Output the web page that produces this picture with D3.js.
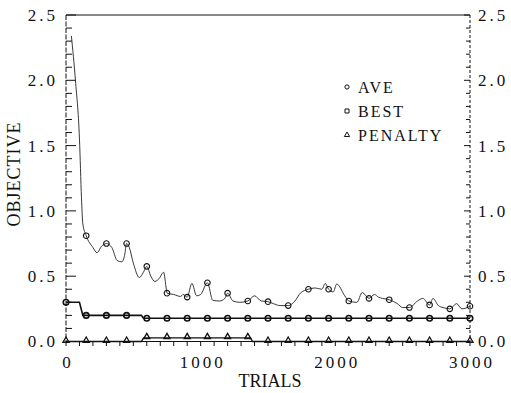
<!DOCTYPE html>
<html>
<head>
<meta charset="utf-8">
<script src="https://cdn.jsdelivr.net/npm/d3@7/dist/d3.min.js"></script>
<style>
  body { margin: 0; background: #fff; }
</style>
</head>
<body>
<svg id="chart" width="511" height="393"></svg>
<script>
// ---- data -------------------------------------------------------------
// average objective of the population per trial (line vertices)
const aveTrials = [40, 70, 100, 115, 125, 150, 200, 230, 265, 300, 340, 380, 415, 435, 450, 470,
  500, 545, 575, 600, 630, 660, 690, 725, 745, 750, 800, 850, 870, 900, 935, 970, 1000, 1050,
  1090, 1140, 1180, 1200, 1240, 1290, 1350, 1400, 1450, 1500, 1540, 1590, 1650, 1700, 1740,
  1800, 1850, 1900, 1925, 1950, 1985, 2010, 2070, 2100, 2160, 2200, 2250, 2290, 2320, 2350,
  2400, 2460, 2500, 2550, 2610, 2650, 2700, 2725, 2765, 2800, 2850, 2900, 2940, 3000];
const aveValues = [2.34, 2.0, 1.55, 1.1, 0.9, 0.81, 0.72, 0.68, 0.73, 0.75, 0.72, 0.62, 0.61, 0.66, 0.75, 0.72,
  0.60, 0.49, 0.53, 0.575, 0.50, 0.46, 0.48, 0.53, 0.40, 0.37, 0.36, 0.345, 0.36, 0.34, 0.445, 0.35, 0.36, 0.45,
  0.315, 0.31, 0.33, 0.37, 0.31, 0.30, 0.31, 0.35, 0.31, 0.305, 0.29, 0.275, 0.275, 0.31, 0.37,
  0.40, 0.41, 0.40, 0.445, 0.40, 0.38, 0.44, 0.35, 0.31, 0.30, 0.375, 0.33, 0.36, 0.34, 0.33,
  0.32, 0.29, 0.26, 0.26, 0.31, 0.33, 0.28, 0.33, 0.275, 0.26, 0.25, 0.29, 0.25, 0.27];

// best objective found so far
const bestTrials = [0, 100, 125, 560, 575, 3000];
const bestValues = [0.30, 0.30, 0.20, 0.20, 0.178, 0.178];

// penalty term
const penaltyTrials = [0, 560, 575, 1370, 1385, 3000];
const penaltyValues = [0, 0, 0.028, 0.028, 0, 0];

// trials at which symbols are plotted
const markerTrials = [0, 150, 300, 450, 600, 750, 900, 1050, 1200, 1350, 1500,
  1650, 1800, 1950, 2100, 2250, 2400, 2550, 2700, 2850, 3000];
const bestMarks = [0.30, 0.20, 0.20, 0.20, 0.178, 0.178, 0.178, 0.178, 0.178, 0.178, 0.178,
  0.178, 0.178, 0.178, 0.178, 0.178, 0.178, 0.178, 0.178, 0.178, 0.178];
const penaltyMarks = [0, 0, 0, 0, 0.028, 0.028, 0.028, 0.028, 0.028, 0.028, 0,
  0, 0, 0, 0, 0, 0, 0, 0, 0, 0];

const xTickValues = [0, 1000, 2000, 3000];
const yTickValues = [0.0, 0.5, 1.0, 1.5, 2.0, 2.5];
const xLabel = "TRIALS";
const yLabel = "OBJECTIVE";
const legendNames = ["AVE", "BEST", "PENALTY"];

// ---- layout -------------------------------------------------------------
const svg = d3.select("#chart");
const plotL = 66, plotR = 470, plotT = 15, plotB = 341.5;
const x = d3.scaleLinear().domain([0, 3000]).range([plotL, plotR]);
const y = d3.scaleLinear().domain([0, 2.5]).range([plotB, plotT]);
const ink = "#111";
const serif = '"Liberation Serif"';

const zip = (ts, vs) => ts.map((t, i) => [t, vs[i]]);
const line = d3.line().x(d => x(d[0])).y(d => y(d[1]));

// ---- frame and ticks ----------------------------------------------------
const frame = svg.append("g").attr("stroke", ink).attr("fill", "none");
frame.append("line").attr("x1", plotL).attr("x2", plotR).attr("y1", plotT).attr("y2", plotT).attr("stroke-width", 1);
frame.append("line").attr("x1", plotL).attr("x2", plotR).attr("y1", plotB).attr("y2", plotB).attr("stroke-width", 1.2);
frame.append("line").attr("x1", plotL).attr("x2", plotL).attr("y1", plotT).attr("y2", plotB)
  .attr("stroke-width", 1).attr("stroke-dasharray", "5 1.5");
frame.append("line").attr("x1", plotR).attr("x2", plotR).attr("y1", plotT).attr("y2", plotB)
  .attr("stroke-width", 1).attr("stroke-dasharray", "3 2");

// y minor / major ticks on both sides, pointing inward
const isMajor = d => Math.abs(d * 2 - Math.round(d * 2)) < 1e-6;
const yMinor = y.ticks(25);
frame.selectAll(".ytl").data(yMinor).join("line")
  .attr("x1", plotL).attr("x2", d => plotL + (isMajor(d) ? 10 : 6))
  .attr("y1", d => y(d)).attr("y2", d => y(d));
frame.selectAll(".ytr").data(yMinor).join("line")
  .attr("x1", plotR).attr("x2", d => plotR - (isMajor(d) ? 6 : 4))
  .attr("y1", d => y(d)).attr("y2", d => y(d));
// x ticks every 100 trials, below the axis
frame.selectAll(".xt").data(x.ticks(30)).join("line")
  .attr("x1", d => x(d)).attr("x2", d => x(d))
  .attr("y1", plotB).attr("y2", plotB + 4.5);

// tick labels
const tickText = sel => sel.style("font-family", serif).style("font-size", "17px")
  .style("letter-spacing", "3px").attr("fill", ink);
svg.append("g").selectAll("text").data(yTickValues).join("text")
  .attr("x", plotL - 8).attr("y", d => y(d)).attr("dy", "0.35em")
  .attr("text-anchor", "end").call(tickText).text(d => d.toFixed(1));
svg.append("g").selectAll("text").data(yTickValues).join("text")
  .attr("x", plotR + 8).attr("y", d => y(d)).attr("dy", "0.35em")
  .attr("text-anchor", "start").call(tickText).text(d => d.toFixed(1));
svg.append("g").selectAll("text").data(xTickValues).join("text")
  .attr("x", d => x(d) + 2).attr("y", plotB + 26)
  .attr("text-anchor", "middle").call(tickText).text(d => d3.format("d")(d));

// axis titles
svg.append("text").attr("x", (plotL + plotR) / 2 + 2).attr("y", 387)
  .style("font-family", serif).style("font-size", "18px").attr("fill", ink)
  .attr("text-anchor", "middle").text(xLabel);
svg.append("text").attr("transform", "translate(20,174) rotate(-90)")
  .style("font-family", serif).style("font-size", "18px").style("letter-spacing", "1px").attr("fill", ink)
  .attr("text-anchor", "middle").text(yLabel);

// ---- series -------------------------------------------------------------
const plot = svg.append("g").attr("fill", "none");
plot.append("path").datum(zip(aveTrials, aveValues))
  .attr("d", line.curve(d3.curveMonotoneX)).attr("stroke", "#222").attr("stroke-width", 0.9);
plot.append("path").datum(zip(bestTrials, bestValues))
  .attr("d", line.curve(d3.curveLinear)).attr("stroke", ink).attr("stroke-width", 1.6);
plot.append("path").datum(zip(penaltyTrials, penaltyValues))
  .attr("d", line.curve(d3.curveLinear)).attr("stroke", ink).attr("stroke-width", 1.4);

// symbols
const circle = d3.symbol().type(d3.symbolCircle).size(24);
const tri = d3.symbol().type(d3.symbolTriangle).size(16);
const aveMarkPts = zip(aveTrials, aveValues).filter(d => markerTrials.includes(d[0]));
plot.selectAll(".am").data(aveMarkPts).join("path")
  .attr("transform", d => `translate(${x(d[0])},${y(d[1])})`)
  .attr("d", circle).attr("stroke", ink).attr("stroke-width", 1.1).attr("fill", "none");
plot.selectAll(".bm").data(zip(markerTrials, bestMarks)).join("path")
  .attr("transform", d => `translate(${x(d[0])},${y(d[1])})`)
  .attr("d", circle).attr("stroke", ink).attr("stroke-width", 1.6).attr("fill", "none");
plot.selectAll(".pm").data(zip(markerTrials, penaltyMarks)).join("path")
  .attr("transform", d => `translate(${x(d[0])},${y(d[1]) - 1})`)
  .attr("d", tri).attr("stroke", ink).attr("stroke-width", 1.3).attr("fill", "none");

// ---- legend -------------------------------------------------------------
const legend = svg.append("g").attr("transform", "translate(347,87)");
const legendSymbols = [
  d3.symbol().type(d3.symbolCircle).size(14),
  d3.symbol().type(d3.symbolSquare).size(16),
  d3.symbol().type(d3.symbolTriangle).size(12)
];
legendNames.forEach((name, i) => {
  const g = legend.append("g").attr("transform", `translate(0,${i * 24})`);
  g.append("path").attr("d", legendSymbols[i]).attr("fill", "none").attr("stroke", ink).attr("stroke-width", 1);
  g.append("text").attr("x", 11).attr("dy", "0.35em")
    .style("font-family", serif).style("font-size", "16px").style("letter-spacing", "2px")
    .attr("fill", ink).text(name);
});
</script>
</body>
</html>
